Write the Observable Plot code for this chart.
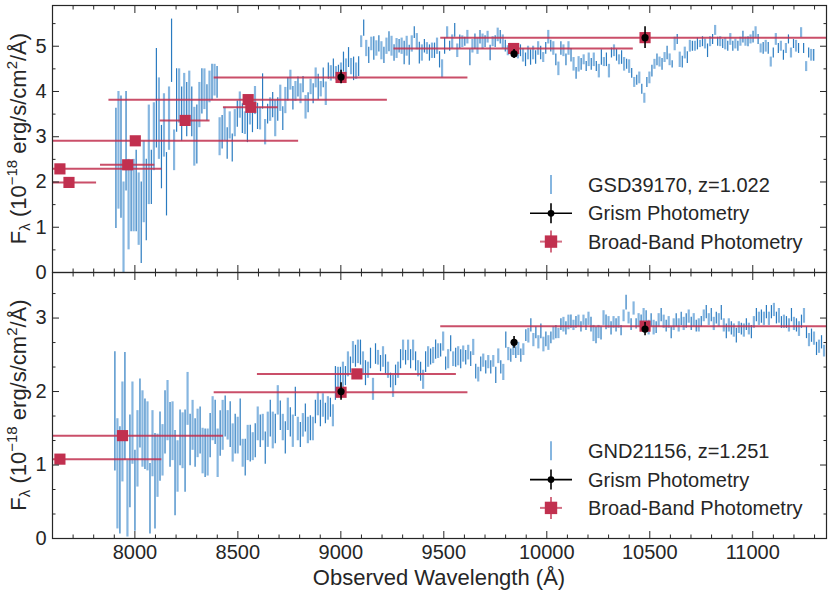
<!DOCTYPE html>
<html><head><meta charset="utf-8">
<script src="https://cdn.jsdelivr.net/npm/d3@7"></script>
<script src="https://cdn.jsdelivr.net/npm/@observablehq/plot@0.6"></script>
<style>
body{margin:0;background:#fff;}
#wrap{position:relative;width:830px;height:597px;font-family:"Liberation Sans",Arial,Helvetica,sans-serif;}
#wrap svg{position:absolute;left:0;overflow:visible;}
</style></head><body><div id="wrap"></div>
<script>
// ---------- data ----------
const xDomain = [7600, 11358];
const xTicks = [8000, 8500, 9000, 9500, 10000, 10500, 11000];
const yTicksTop = [0, 1, 2, 3, 4, 5];
const yTicksBottom = [0, 1, 2, 3];

// Panel 1: GSD39170 grism spectrum [flux, 1-sigma], regular wavelength grid
const topName = "GSD39170, z=1.022";
const topStart = 7908, topEnd = 11296;
const topSpectrum = [
[2.3,1.33],[2.7,1.3],[2.55,1.35],[1.0,1.0],[2.9,1.1],[1.5,1.0],[1.65,0.75],[1.7,0.8],[1.8,0.9],[1.4,0.8],
[1.1,0.9],[2.0,0.9],[1.6,0.9],[2.6,1.1],[2.1,0.6],[3.0,0.75],[3.85,1.1],[3.4,0.9],[2.55,0.7],[3.25,0.7],
[1.95,0.7],[3.4,0.7],[4.9,0.7],[2.7,0.45],[3.8,0.7],[3.9,0.6],[3.5,0.6],[3.85,0.55],[3.6,0.6],[3.85,0.6],
[3.55,0.55],[3.0,0.65],[3.05,0.65],[3.7,0.5],[4.0,0.5],[4.05,0.45],[3.75,0.4],[4.1,0.35],[4.2,0.4],[4.25,0.35],
[4.2,0.35],
[3.0,0.42],[3.1,0.37],[3.28,0.37],[2.85,0.35],[3.25,0.3],[2.75,0.31],[3.3,0.3],[3.5,0.29],[3.7,0.29],[3.4,0.33],
[3.3,0.25],[3.2,0.33],[3.55,0.29],[3.35,0.26],[3.8,0.31],[3.45,0.29],[3.4,0.25],[4.0,0.39],[3.1,0.28],[3.5,0.22],
[3.6,0.26],[3.7,0.28],[3.4,0.4],[3.6,0.26],[3.85,0.29],[3.4,0.26],[3.8,0.29],[4.05,0.26],[4.25,0.22],[3.85,0.26],
[4.0,0.22],[4.1,0.22],[3.95,0.22],[4.15,0.18],[3.65,0.26],[3.75,0.22],[4.1,0.17],[3.95,0.22],[4.3,0.22],[4.1,0.28],
[4.05,0.17],[4.3,0.22],[3.95,0.26],[4.45,0.18],[4.4,0.17],[4.5,0.22],[4.4,0.15],[4.4,0.18],[4.45,0.18],[4.65,0.22],
[4.5,0.22],[4.75,0.22],[4.55,0.18],[4.5,0.26],[4.45,0.18],[4.55,0.22],[5.1,0.13],[5.4,0.18],[4.95,0.18],[4.8,0.18],
[5.05,0.15],[4.95,0.26],[4.95,0.17],[5.05,0.18],[4.9,0.2],[4.8,0.18],[5.0,0.18],[5.1,0.22],[5.0,0.22],[4.85,0.18],
[4.95,0.22],[5.0,0.15],[5.0,0.18],[4.85,0.26],[5.0,0.22],[4.8,0.22],[5.05,0.18],[5.3,0.13],[5.1,0.18],
[4.85,0.24],[4.85,0.18],[5.0,0.15],[4.95,0.13],[4.85,0.18],[4.9,0.17],[4.9,0.17],[5.0,0.18],[4.7,0.18],[4.5,0.2],
[5.0,0.18],[5.3,0.13],[5.0,0.11],[5.1,0.15],[5.35,0.15],[4.9,0.15],[5.1,0.15],[5.1,0.13],[5.1,0.1],[5.2,0.15],
[4.75,0.18],[5.0,0.15],[5.1,0.17],[5.0,0.18],[5.2,0.15],[5.1,0.17],[5.1,0.13],[5.2,0.13],[4.85,0.17],[5.1,0.11],
[5.1,0.13],[5.25,0.15],[5.2,0.15],[5.1,0.15],[5.0,0.13],[4.9,0.11],[4.95,0.11],[4.9,0.1],[4.85,0.1],[4.85,0.13],
[4.9,0.13],[4.8,0.15],[4.7,0.15],[4.85,0.15],[4.75,0.17],[4.85,0.15],[4.75,0.15],[4.95,0.15],[4.85,0.15],[4.75,0.11],
[4.95,0.13],[5.2,0.15],[5.0,0.13],[4.95,0.15],[4.7,0.13],[4.5,0.15],[4.95,0.15],[4.9,0.13],[4.7,0.13],[4.95,0.15],
[4.8,0.15],[4.6,0.15],[4.4,0.13],[4.6,0.17],[4.6,0.13],[4.7,0.11],[4.55,0.11],[4.7,0.15],
[4.6,0.13],[4.7,0.15],[4.55,0.11],[4.45,0.15],[4.75,0.17],[4.65,0.1],[4.7,0.15],[4.45,0.15],[4.85,0.11],[4.9,0.13],
[4.8,0.13],[4.7,0.11],[4.75,0.15],[4.6,0.15],[4.6,0.11],[4.55,0.15],[4.4,0.11],[4.2,0.11],[4.25,0.11],[4.3,0.13],
[4.05,0.11],[3.85,0.11],[4.2,0.11],[4.3,0.13],[4.45,0.13],[4.6,0.11],[4.7,0.13],[4.65,0.11],[4.6,0.13],[4.75,0.11],
[4.85,0.15],[4.7,0.13],[4.6,0.08],[5.05,0.15],[5.15,0.11],[4.7,0.17],[4.65,0.13],[4.85,0.13],[4.75,0.13],[5.0,0.13],
[5.0,0.11],[5.0,0.11],[5.05,0.13],[5.05,0.08],[5.1,0.11],[5.05,0.11],[4.9,0.15],[5.1,0.11],[5.15,0.11],[5.35,0.11],
[5.1,0.1],[5.1,0.11],[5.05,0.1],[5.05,0.13],[5.0,0.11],[5.15,0.13],[5.0,0.11],[5.05,0.11],[5.0,0.11],[5.1,0.1],
[5.2,0.13],[5.1,0.1],[5.1,0.11],[5.15,0.1],[5.2,0.13],[5.3,0.13],[5.15,0.11],[4.95,0.1],[4.95,0.13],[5.0,0.13],
[4.95,0.13],[4.65,0.11],[4.85,0.11],[5.15,0.13],[4.95,0.11],[5.0,0.11],[4.8,0.11],[4.95,0.11],[5.15,0.1],[4.85,0.11],
[5.05,0.1],[5.0,0.13],[4.95,0.11],[5.3,0.11],[4.95,0.11],[4.55,0.11],[4.85,0.11],[4.8,0.13],[4.8,0.13]
];
// broad-band photometry: pivot wavelength, flux, filter half-width
const topBBWave = [7636, 7680, 7965, 8002, 8244, 8550, 8563, 9001, 9839, 10477];
const topBBFlux = [2.29, 1.99, 2.38, 2.91, 3.36, 3.82, 3.65, 4.31, 4.95, 5.19];
const topBBHalf = [495, 134, 132, 793, 121, 676, 133, 616, 581, 992];
// grism photometry
const topGPWave = [9001, 9841, 10477];
const topGPFlux = [4.32, 4.83, 5.19];
const topGPErr  = [0.15, 0.10, 0.24];

// Panel 2: GND21156
const botName = "GND21156, z=1.251";
const botStart = 7903, botEnd = 11346;
const botSpectrum = [
[1.73,0.81],[0.88,0.75],[0.79,0.73],[1.45,0.68],[1.8,0.73],[0.54,0.52],[1.05,0.63],[1.57,0.56],[0.65,0.55],[1.22,0.52],
[1.7,0.47],[1.49,0.52],[1.42,0.48],[1.39,0.47],[0.54,0.48],[1.29,0.45],[0.78,0.65],[0.99,0.43],[1.25,0.47],[1.2,0.35],
[1.58,0.43],[1.74,0.41],[1.41,0.44],[1.46,0.4],[0.89,0.58],[0.98,0.35],[1.37,0.38],[1.33,0.38],[1.19,0.56],[1.9,0.36],
[1.34,0.35],[1.54,0.34],[1.3,0.33],[1.43,0.33],[1.47,0.32],[1.19,0.31],[1.16,0.33],[1.17,0.32],[1.4,0.3],[1.63,0.3],
[1.58,0.3],[1.16,0.33],[1.43,0.31],[1.54,0.34],[1.66,0.28],[1.54,0.2],[1.55,0.31],[1.3,0.26],[1.42,0.27],[1.4,0.25],
[1.58,0.32],[1.16,0.19],[1.1,0.25],[1.3,0.24],[1.29,0.25],[1.25,0.19],[1.33,0.23],[1.56,0.23],[1.46,0.22],[1.51,0.18],
[1.23,0.22],[1.48,0.24],[1.63,0.25],[1.47,0.25],[1.49,0.2],[1.88,0.2],[1.67,0.2],[1.51,0.18],[1.37,0.22],[1.69,0.22],
[1.58,0.2],[1.46,0.22],[1.86,0.2],[1.49,0.16],[1.41,0.17],[1.54,0.16],[1.64,0.19],[1.47,0.18],[1.5,0.17],[1.49,0.16],
[1.72,0.16],[1.83,0.16],[1.7,0.18],[1.81,0.16],[1.7,0.14],[1.77,0.16],[1.78,0.13],[1.67,0.15],[2.11,0.23],[2.15,0.18],
[2.17,0.16],
[2.22,0.18],[2.21,0.13],[2.37,0.17],[2.36,0.11],[2.53,0.15],[2.48,0.15],[2.54,0.16],[2.53,0.17],[2.39,0.15],[2.25,0.17],
[2.29,0.11],[2.45,0.14],[2.03,0.15],[2.51,0.14],[2.46,0.1],[2.38,0.11],[2.47,0.14],[2.37,0.13],[2.29,0.11],[2.15,0.1],
[2.07,0.15],[2.22,0.14],[2.29,0.11],[2.44,0.13],[2.56,0.14],[2.46,0.1],[2.56,0.14],[2.44,0.13],[2.56,0.14],[2.41,0.13],
[2.31,0.11],[2.27,0.13],[2.16,0.13],[2.4,0.14],[2.47,0.14],[2.47,0.11],[2.49,0.11],[2.57,0.13],[2.55,0.1],[2.56,0.09],
[2.68,0.13],[2.38,0.09],[2.44,0.13],[2.65,0.11],[2.44,0.1],[2.46,0.13],[2.48,0.13],[2.44,0.13],[2.51,0.11],[2.46,0.1],
[2.53,0.1],[2.44,0.1],[2.6,0.11],[2.27,0.1],[2.23,0.1],[2.37,0.1],[2.42,0.09],[2.33,0.09],[2.4,0.09],[2.33,0.09],
[2.41,0.08],[2.22,0.11],[2.48,0.1],[2.33,0.09],[2.26,0.11],[2.7,0.11],[2.51,0.09],[2.49,0.09],[2.58,0.09],[2.53,0.08],
[2.58,0.09],[2.49,0.09],[2.57,0.08],[2.76,0.08],[2.76,0.1],[2.9,0.09],[2.7,0.09],[2.8,0.08],[2.67,0.09],[2.82,0.1],
[2.64,0.1],[2.71,0.1],[2.66,0.1],[2.73,0.08],[2.79,0.09],[2.81,0.09],[2.79,0.07],[2.91,0.08],[2.91,0.1],[2.86,0.09],
[2.94,0.1],[2.95,0.09],[2.9,0.07],[2.94,0.08],[2.96,0.08],[2.88,0.07],[2.97,0.07],[2.91,0.08],[2.99,0.09],
[2.91,0.1],[2.79,0.11],[2.76,0.11],[2.81,0.09],[2.79,0.09],[3.0,0.1],[2.94,0.1],[2.94,0.08],[2.86,0.09],[2.94,0.08],
[2.9,0.09],[2.94,0.08],[2.83,0.07],[3.03,0.08],[3.21,0.1],[3.0,0.08],[2.91,0.08],[3.13,0.09],[2.92,0.07],[2.97,0.09],
[2.95,0.09],[3.04,0.09],[3.0,0.1],[2.87,0.1],[2.97,0.09],[2.87,0.1],[2.87,0.08],[2.97,0.09],[3.04,0.09],[2.95,0.09],
[2.89,0.08],[2.94,0.08],[2.8,0.08],[2.91,0.08],[2.97,0.09],[2.9,0.09],[2.99,0.09],[2.92,0.09],[2.96,0.1],[3.02,0.09],
[2.92,0.09],[2.97,0.09],[2.89,0.08],[2.9,0.09],[2.95,0.07],[3.03,0.08],[3.08,0.09],[2.98,0.08],[3.04,0.09],[2.92,0.09],
[3.0,0.08],[2.97,0.09],[3.07,0.1],[2.9,0.09],[2.82,0.1],[2.9,0.09],[2.86,0.09],[2.83,0.09],[2.76,0.1],[2.87,0.08],
[2.85,0.08],[2.83,0.09],[2.91,0.08],[2.85,0.08],[2.81,0.09],[2.94,0.08],[3.04,0.09],[2.99,0.09],[3.02,0.09],[2.99,0.09],
[3.08,0.09],[2.99,0.09],[3.08,0.09],[3.11,0.09],[3.0,0.08],[3.03,0.1],[2.94,0.08],[2.95,0.09],[2.94,0.08],[2.9,0.09],
[3.04,0.09],[2.92,0.09],[2.9,0.09],[2.85,0.1],[2.95,0.09],[3.03,0.1],[2.8,0.08],[2.7,0.09],[2.76,0.09],[2.72,0.09],
[2.58,0.09],[2.61,0.09],[2.67,0.09],[2.55,0.08]
];
const botBBWave = [7636, 7940, 9001, 9078, 10477];
const botBBFlux = [1.08, 1.40, 1.99, 2.24, 2.89];
const botBBHalf = [495, 490, 616, 483, 992];
const botGPWave = [9001, 9841, 10477];
const botGPFlux = [2.00, 2.67, 2.85];
const botGPErr  = [0.12, 0.08, 0.09];

const legendLabels = ["Grism Photometry", "Broad-Band Photometry"];

// ---------- style ----------
const FONT = '"Liberation Sans", Arial, Helvetica, sans-serif';
const INK = "#262626";
const RED = "#c1304f";
const BLUE_DARK = "#2a7bc0";
const BLUE_LIGHT = "#86b6e0";

const wrap = d3.select("#wrap");
const blank = () => "";
const plain = d => String(d);

function panel(o) {
  const n = o.spectrum.length;
  const spec = o.spectrum.map(([f, e], i) => ({w: o.start + i * (o.end - o.start) / (n - 1), lo: f - e, hi: f + e, k: i % 2}));
  const bb = o.bbW.map((w, i) => ({w, f: o.bbF[i], x1: w - o.bbH[i], x2: w + o.bbH[i]}));
  const gp = o.gpW.map((w, i) => ({w, f: o.gpF[i], lo: o.gpF[i] - o.gpE[i], hi: o.gpF[i] + o.gpE[i]}));
  const xMinor = d3.range(7600, 11400, 100).filter(v => v % 500 !== 0);
  const axes = [];
  for (const a of ["bottom", "top"]) {
    axes.push(Plot.axisX({anchor: a, ticks: xTicks, tickSize: -7, tickFormat: blank, label: null}));
    axes.push(Plot.axisX({anchor: a, ticks: xMinor, tickSize: -3.5, tickFormat: blank, label: null}));
  }
  for (const a of ["left", "right"]) {
    axes.push(Plot.axisY({anchor: a, ticks: o.yTicks, tickSize: -7, tickFormat: blank, label: null}));
    axes.push(Plot.axisY({anchor: a, ticks: o.yMinor, tickSize: -3.5, tickFormat: blank, label: null}));
  }
  axes.push(Plot.axisY({anchor: "left", ticks: o.yTicks, tickSize: 0, tickPadding: 6, tickFormat: plain, label: null}));
  if (o.xLabels) axes.push(Plot.axisX({anchor: "bottom", ticks: xTicks, tickSize: 0, tickPadding: 6, tickFormat: plain, label: null}));
  const svg = Plot.plot({
    width: 830, height: o.height,
    marginLeft: 52, marginRight: 4, marginTop: o.mt, marginBottom: o.mb,
    style: {background: "transparent", fontFamily: FONT, fontSize: "20px", color: INK, overflow: "visible"},
    x: {domain: xDomain, label: null},
    y: {domain: o.yDomain, label: null},
    marks: [
      Plot.ruleX(spec.filter(d => d.k === 1), {x: "w", y1: "lo", y2: "hi", stroke: BLUE_LIGHT, strokeWidth: 2.2, clip: true}),
      Plot.ruleX(spec.filter(d => d.k === 0), {x: "w", y1: "lo", y2: "hi", stroke: BLUE_DARK, strokeWidth: 1.2, clip: true}),
      Plot.ruleY(bb, {y: "f", x1: "x1", x2: "x2", stroke: RED, strokeWidth: 2, strokeOpacity: 0.85, clip: true}),
      Plot.dot(bb, {x: "w", y: "f", symbol: "square", r: 6.3, fill: RED, clip: true}),
      Plot.ruleX(gp, {x: "w", y1: "lo", y2: "hi", stroke: "black", strokeWidth: 1.6}),
      Plot.dot(gp, {x: "w", y: "f", r: 3.6, fill: "black"}),
      Plot.frame({stroke: INK, strokeWidth: 1.2}),
      ...axes
    ]
  });
  svg.style.top = o.top + "px";
  // y-axis title with sub/superscripts
  const cy = o.mt + (o.height - o.mt - o.mb) / 2;
  const t = d3.select(svg).append("text")
    .attr("transform", `translate(26,${cy}) rotate(-90)`)
    .attr("text-anchor", "middle").attr("fill", INK)
    .attr("font-family", FONT).attr("font-size", 22);
  t.append("tspan").text("F");
  t.append("tspan").attr("font-size", 15).attr("dy", 4).text("λ");
  t.append("tspan").attr("dy", -4).text(" (10");
  t.append("tspan").attr("font-size", 15).attr("dy", -9).text("−18");
  t.append("tspan").attr("dy", 9).text(" erg/s/cm");
  t.append("tspan").attr("font-size", 15).attr("dy", -9).text("2");
  t.append("tspan").attr("dy", 9).text("/Å)");
  if (o.xLabels) {
    d3.select(svg).append("text")
      .attr("x", 439).attr("y", o.height - 12)
      .attr("text-anchor", "middle").attr("fill", INK)
      .attr("font-family", FONT).attr("font-size", 22)
      .text("Observed Wavelength (Å)");
  }
  wrap.node().appendChild(svg);
}

panel({top: 0, height: 285, mt: 5, mb: 13, yDomain: [0, 5.9], yTicks: yTicksTop,
  yMinor: [0.5, 1.5, 2.5, 3.5, 4.5, 5.5],
  spectrum: topSpectrum, start: topStart, end: topEnd,
  bbW: topBBWave, bbF: topBBFlux, bbH: topBBHalf,
  gpW: topGPWave, gpF: topGPFlux, gpE: topGPErr, xLabels: false});

panel({top: 266, height: 331, mt: 6, mb: 59, yDomain: [0, 3.62], yTicks: yTicksBottom,
  yMinor: [1/3, 2/3, 4/3, 5/3, 7/3, 8/3, 10/3],
  spectrum: botSpectrum, start: botStart, end: botEnd,
  bbW: botBBWave, bbF: botBBFlux, bbH: botBBHalf,
  gpW: botGPWave, gpF: botGPFlux, gpE: botGPErr, xLabels: true});

// ---------- in-panel legends ----------
const lg = wrap.append("svg").attr("width", 830).attr("height", 597).style("top", "0px");
function legend(cy, name) {
  const rows = [cy, cy + 28.3, cy + 56.6];
  const mx = 551;
  const g = lg.append("g");
  g.append("line").attr("x1", mx).attr("x2", mx).attr("y1", rows[0] - 10).attr("y2", rows[0] + 9)
    .attr("stroke", BLUE_LIGHT).attr("stroke-width", 2);
  g.append("line").attr("x1", 530).attr("x2", 572).attr("y1", rows[1]).attr("y2", rows[1]).attr("stroke", "black").attr("stroke-width", 1.6);
  g.append("line").attr("x1", mx).attr("x2", mx).attr("y1", rows[1] - 10).attr("y2", rows[1] + 10).attr("stroke", "black").attr("stroke-width", 1.6);
  g.append("circle").attr("cx", mx).attr("cy", rows[1]).attr("r", 3.4).attr("fill", "black");
  g.append("line").attr("x1", mx - 11).attr("x2", mx + 11).attr("y1", rows[2]).attr("y2", rows[2]).attr("stroke", RED).attr("stroke-opacity", 0.7).attr("stroke-width", 2);
  g.append("line").attr("x1", mx).attr("x2", mx).attr("y1", rows[2] - 11).attr("y2", rows[2] + 11).attr("stroke", RED).attr("stroke-opacity", 0.7).attr("stroke-width", 2);
  g.append("rect").attr("x", mx - 6.2).attr("y", rows[2] - 6.2).attr("width", 12.4).attr("height", 12.4).attr("fill", RED);
  [name, ...legendLabels].forEach((s, i) => {
    g.append("text").attr("x", 588).attr("y", rows[i]).attr("dy", "0.35em")
      .attr("font-family", FONT).attr("font-size", 20).attr("fill", INK).text(s);
  });
}
legend(185, topName);
legend(451.3, botName);
</script></body></html>
